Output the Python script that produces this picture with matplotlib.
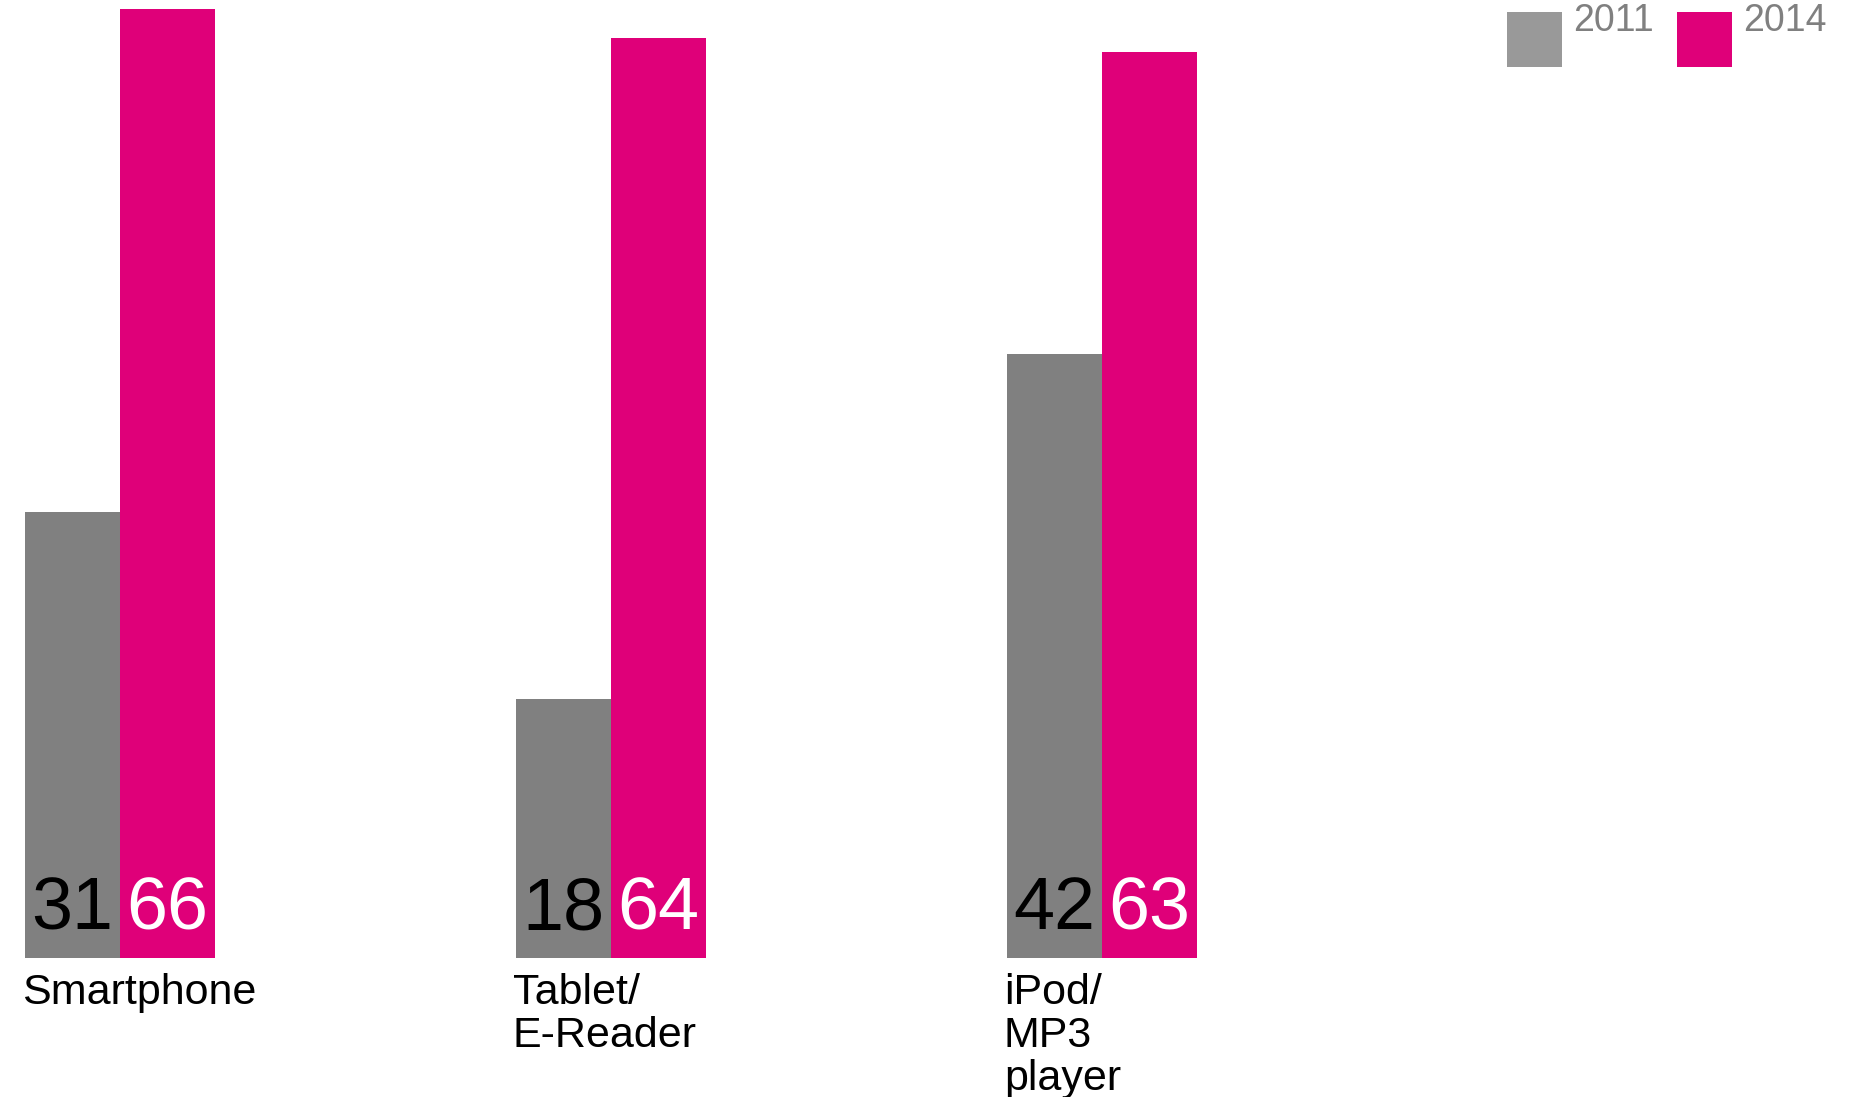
import numpy as np
import matplotlib.pyplot as plt
from matplotlib.patches import Rectangle

plt.rcParams['font.family'] = ['Liberation Sans', 'DejaVu Sans']

categories = ['Smartphone', 'Tablet/\nE-Reader', 'iPod/\nMP3\nplayer']
years = ['2011', '2014']
v2011 = [31, 18, 42]
v2014 = [66, 64, 63]

GREY = '#808080'
PINK = '#DF0079'
LEGEND_GREY = '#999999'

W, H = 1860, 1097
fig = plt.figure(figsize=(W / 100, H / 100), dpi=100)
ax = fig.add_axes([0, 0, 1, 1])
ax.axis('off')

# pixel-based scales: 491 px between groups, ~14.38 px per percentage point
ax.set_xlim(-120 / 491, (W - 120) / 491)
ax.set_ylim(-139 / 14.38, (H - 139) / 14.38)

x = np.arange(len(categories))
w = 0.1935
ax.bar(x - w / 2, v2011, w, color=GREY, linewidth=0)
ax.bar(x + w / 2, v2014, w, color=PINK, linewidth=0)

for xi, a, b in zip(x, v2011, v2014):
    ax.annotate(str(a), (xi - w / 2, 0), xytext=(0, 29), textcoords='offset pixels',
                ha='center', va='baseline', fontsize=53, color='black')
    ax.annotate(str(b), (xi + w / 2, 0), xytext=(0, 29), textcoords='offset pixels',
                ha='center', va='baseline', fontsize=53, color='white')

for xi, lab in zip(x, categories):
    ax.annotate(lab, (xi - w, 0), xytext=(-3, -15), textcoords='offset pixels',
                ha='left', va='top', fontsize=31, color='black', linespacing=1.09)

# legend squares with labels, top right
for i, (yr, col) in enumerate(zip(years, [LEGEND_GREY, PINK])):
    x0 = 1507 + i * 170
    fig.add_artist(Rectangle((x0 / W, 1 - 67 / H), 55 / W, 55 / H,
                             transform=fig.transFigure, color=col, lw=0))
    fig.text((x0 + 66) / W, 1 - 3 / H, yr, ha='left', va='top',
             fontsize=27, color=GREY)

fig.savefig('out.png', dpi=100, facecolor='white')
